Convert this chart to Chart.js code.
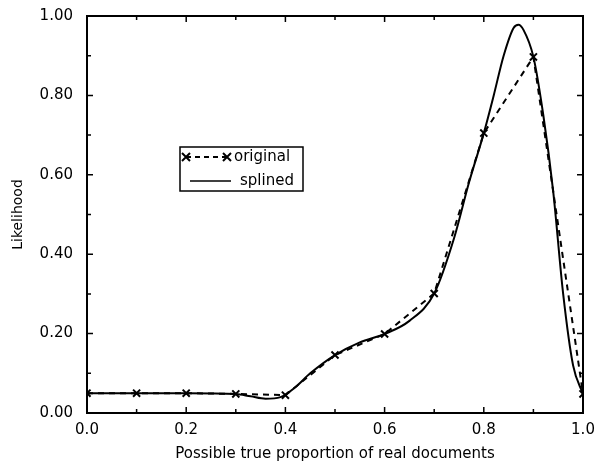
<!DOCTYPE html>
<html>
<head>
<meta charset="utf-8">
<script src="https://cdn.jsdelivr.net/npm/chart.js@4"></script>
<style>
  html, body { margin: 0; padding: 0; background: #fff; }
  #box { width: 596px; height: 463px; }
</style>
</head>
<body>
<div id="box"><canvas id="grafico"></canvas></div>
<script>
const proporcoes = [0.0, 0.1, 0.2, 0.3, 0.4, 0.5, 0.6, 0.7, 0.8, 0.9, 1.0];
const original = [0.05, 0.05, 0.05, 0.048, 0.045, 0.146, 0.199, 0.301, 0.705, 0.897, 0.048];

const splineX = [0.0, 0.1, 0.2, 0.3, 0.33, 0.36, 0.39, 0.42, 0.45, 0.5, 0.55, 0.6, 0.65, 0.7, 0.74, 0.77, 0.8, 0.82, 0.84, 0.86, 0.87, 0.88, 0.9, 0.92, 0.94, 0.96, 0.98, 1.0];
const splineY = [0.05, 0.05, 0.05, 0.048, 0.042, 0.036, 0.04, 0.065, 0.1, 0.146, 0.178, 0.199, 0.232, 0.301, 0.44, 0.58, 0.705, 0.8, 0.9, 0.97, 0.978, 0.965, 0.897, 0.75, 0.557, 0.3, 0.12, 0.048];

const ticksX = [0.0, 0.2, 0.4, 0.6, 0.8, 1.0];
const ticksY = [0.0, 0.2, 0.4, 0.6, 0.8, 1.0];

const fonte = '"DejaVu Sans", Verdana, sans-serif';

function ehMaior(valor, lista) {
    return lista.some(v => Math.abs(v - valor) < 1e-6);
}

// moldura e marcas para dentro, nos quatro lados
const molduraPlugin = {
    id: 'moldura',
    afterDraw(chart) {
        const ctx = chart.ctx;
        const a = chart.chartArea;
        const sx = chart.scales.x;
        const sy = chart.scales.y;
        ctx.save();
        ctx.strokeStyle = '#000';
        ctx.lineWidth = 1.5;
        sx.ticks.forEach(t => {
            const px = sx.getPixelForValue(t.value);
            const len = ehMaior(t.value, ticksX) ? 6 : 4;
            ctx.beginPath();
            ctx.moveTo(px, a.bottom); ctx.lineTo(px, a.bottom - len);
            ctx.moveTo(px, a.top); ctx.lineTo(px, a.top + len);
            ctx.stroke();
        });
        sy.ticks.forEach(t => {
            const py = sy.getPixelForValue(t.value);
            const len = ehMaior(t.value, ticksY) ? 6 : 4;
            ctx.beginPath();
            ctx.moveTo(a.left, py); ctx.lineTo(a.left + len, py);
            ctx.moveTo(a.right, py); ctx.lineTo(a.right - len, py);
            ctx.stroke();
        });
        ctx.lineWidth = 2;
        ctx.strokeRect(a.left, a.top, a.right - a.left, a.bottom - a.top);
        ctx.restore();
    }
};

// legenda dentro do grafico, com caixa
const legendaPlugin = {
    id: 'legendaCaixa',
    afterDraw(chart) {
        const ctx = chart.ctx;
        const ds = chart.data.datasets;
        ctx.save();
        ctx.strokeStyle = '#000';
        ctx.fillStyle = '#000';
        ctx.lineWidth = 1.5;
        ctx.strokeRect(180, 147, 123, 44);
        ctx.font = '15px ' + fonte;
        ctx.textBaseline = 'middle';
        ctx.textAlign = 'left';

        // linha 1: original
        ctx.lineWidth = 2;
        ctx.setLineDash([5, 4]);
        ctx.beginPath();
        ctx.moveTo(186, 157); ctx.lineTo(227, 157);
        ctx.stroke();
        ctx.setLineDash([]);
        [186, 227].forEach(cx => {
            ctx.beginPath();
            ctx.moveTo(cx - 4, 153); ctx.lineTo(cx + 4, 161);
            ctx.moveTo(cx - 4, 161); ctx.lineTo(cx + 4, 153);
            ctx.stroke();
        });
        ctx.fillText(ds[0].label, 234, 157);

        // linha 2: splined
        ctx.lineWidth = 1.5;
        ctx.beginPath();
        ctx.moveTo(190, 181); ctx.lineTo(231, 181);
        ctx.stroke();
        ctx.fillText(ds[1].label, 240, 181);
        ctx.restore();
    }
};

const ctx = document.getElementById('grafico').getContext('2d');

new Chart(ctx, {
    type: 'line',
    data: {
        datasets: [{
            label: 'original',
            data: proporcoes.map((x, i) => ({ x: x, y: original[i] })),
            borderColor: '#000',
            borderWidth: 2,
            borderDash: [6, 5],
            pointStyle: 'crossRot',
            pointRadius: 5,
            pointBorderWidth: 2,
            pointBorderColor: '#000',
            tension: 0,
            fill: false
        }, {
            label: 'splined',
            data: splineX.map((x, i) => ({ x: x, y: splineY[i] })),
            borderColor: '#000',
            borderWidth: 2,
            pointRadius: 0,
            cubicInterpolationMode: 'monotone',
            fill: false
        }]
    },
    options: {
        responsive: true,
        maintainAspectRatio: false,
        animation: false,
        layout: { padding: { top: 16, right: 13, left: 10, bottom: 0 } },
        plugins: {
            legend: { display: false },
            tooltip: { enabled: false }
        },
        scales: {
            x: {
                type: 'linear',
                min: 0,
                max: 1,
                grid: { display: false },
                border: { display: false },
                ticks: {
                    stepSize: 0.1,
                    autoSkip: false,
                    maxRotation: 0,
                    color: '#000',
                    padding: 0,
                    font: { family: fonte, size: 15 },
                    callback: v => ehMaior(v, ticksX) ? v.toFixed(1) : ''
                },
                title: {
                    display: true,
                    text: 'Possible true proportion of real documents',
                    color: '#000',
                    font: { family: fonte, size: 15 },
                    padding: { top: 2, bottom: 0 }
                },
                afterFit(scale) { scale.height = 50; }
            },
            y: {
                min: 0,
                max: 1,
                grid: { display: false },
                border: { display: false },
                ticks: {
                    stepSize: 0.1,
                    autoSkip: false,
                    color: '#000',
                    padding: 6,
                    font: { family: fonte, size: 15 },
                    callback: v => ehMaior(v, ticksY) ? v.toFixed(2) : ''
                },
                title: {
                    display: true,
                    text: 'Likelihood',
                    color: '#000',
                    font: { family: fonte, size: 14 },
                    padding: { top: 0, bottom: 0 }
                },
                afterFit(scale) { scale.width = 77; }
            }
        }
    },
    plugins: [molduraPlugin, legendaPlugin]
});
</script>
</body>
</html>
